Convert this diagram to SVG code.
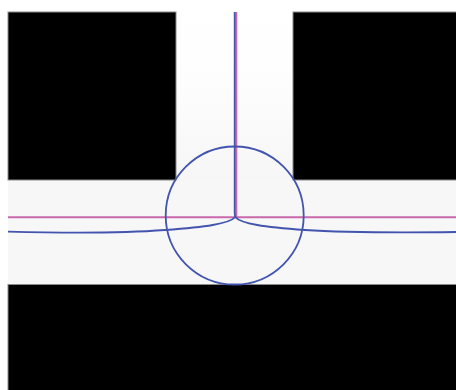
<svg xmlns="http://www.w3.org/2000/svg" width="456" height="390" viewBox="0 0 456 390">
<defs>
<linearGradient id="chan" x1="0" y1="12" x2="0" y2="180" gradientUnits="userSpaceOnUse"><stop offset="0" stop-color="#ffffff"/><stop offset="0.45" stop-color="#fdfdfd"/><stop offset="1" stop-color="#f6f6f7"/></linearGradient>
</defs>
<style>
.wall{fill:#000;stroke:#8a8a8a;stroke-width:1}
.pink{fill:none;stroke:#c968aa;stroke-width:2}
.blue{fill:none;stroke:#4254ae;stroke-width:1.8}
</style>
<rect width="456" height="390" fill="#fff"/>
<rect x="176" y="12" width="117" height="168" fill="url(#chan)"/>
<rect x="8" y="180" width="448" height="104" fill="#f7f7f8"/>
<g id="walls">
<rect class="wall" x="8" y="12" width="168" height="168"/>
<rect class="wall" x="293" y="12" width="170" height="168"/>
<rect class="wall" x="8" y="284.500" width="455" height="110"/>
</g>
<g id="connectors">
<path class="pink" d="M8 217.300H456M236.300 12V217.300"/>
<path class="blue" d="M234.700 12V212C234.700 215 235 216 235.300 217"/>
<path class="blue" d="M8 231.700C60 233 120 233.500 165 230C205 227 229 224 235.300 217C241 224 265 227 305 230C350 233 410 232.500 456 232"/>
<circle class="blue" cx="234.700" cy="215.500" r="69"/>
</g>
</svg>
